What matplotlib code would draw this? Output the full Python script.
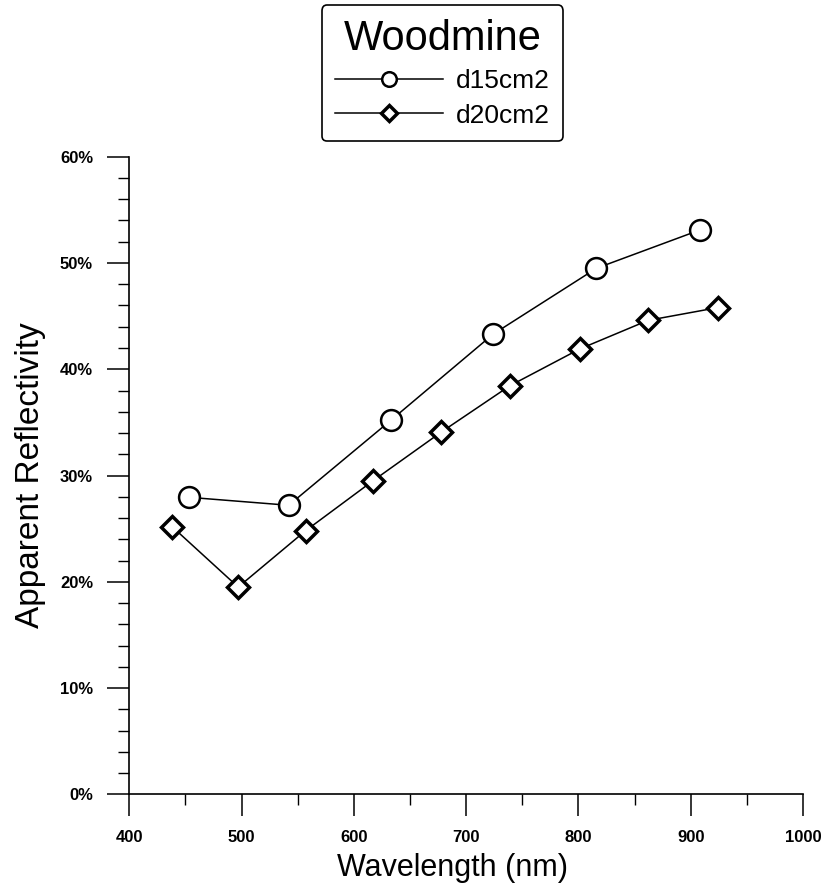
import matplotlib
matplotlib.use("Agg")
import matplotlib.pyplot as plt
from matplotlib.ticker import MultipleLocator, FuncFormatter

plt.rcParams['font.family'] = ['Liberation Sans', 'DejaVu Sans']

# values
wl_15 = [453, 542, 633, 724, 816, 908]
refl_15 = [27.95, 27.2, 35.2, 43.3, 49.5, 53.1]

wl_20 = [438, 497, 557, 617, 678, 739, 801, 862, 924]
refl_20 = [25.2, 19.5, 24.8, 29.5, 34.1, 38.45, 41.9, 44.6, 45.8]

fig = plt.figure(figsize=(8.27, 8.86), dpi=100)
ax = fig.add_axes([0.1563, 0.1035, 0.8147, 0.7196])

ax.plot(wl_15, refl_15, color='black', lw=1.1, marker='o', ms=15,
        mfc='white', mec='black', mew=1.8, label='d15cm2')
ax.plot(wl_20, refl_20, color='black', lw=1.1, marker='D', ms=11,
        mfc='white', mec='black', mew=2.5, label='d20cm2')

ax.set_xlim(400, 1000)
ax.set_ylim(0, 60)
ax.spines['top'].set_visible(False)
ax.spines['right'].set_visible(False)
ax.spines['left'].set_linewidth(1.2)
ax.spines['bottom'].set_linewidth(1.2)

ax.xaxis.set_major_locator(MultipleLocator(100))
ax.xaxis.set_minor_locator(MultipleLocator(50))
ax.yaxis.set_major_locator(MultipleLocator(10))
ax.yaxis.set_minor_locator(MultipleLocator(2))
ax.yaxis.set_major_formatter(FuncFormatter(lambda v, p: '%d%%' % v))

ax.tick_params(which='major', direction='out', length=16, width=1.1,
               labelsize=12, pad=10)
ax.tick_params(which='minor', direction='out', length=8, width=1.0)
for lab in ax.get_xticklabels() + ax.get_yticklabels():
    lab.set_fontweight('bold')

ax.set_xlabel('Wavelength (nm)', fontsize=22)
ax.xaxis.set_label_coords(0.48, -0.092)
ax.set_ylabel('Apparent Reflectivity', fontsize=24, labelpad=10)

leg = fig.legend(loc='upper center', bbox_to_anchor=(0.535, 0.994),
                 title='Woodmine', title_fontsize=30, fontsize=19,
                 markerscale=0.7, handlelength=4.1, handletextpad=0.5,
                 labelspacing=0.4, fancybox=True, framealpha=1,
                 edgecolor='black', borderpad=0.5, borderaxespad=0)
leg.get_frame().set_linewidth(1.2)

fig.savefig('out.png', dpi=100)
